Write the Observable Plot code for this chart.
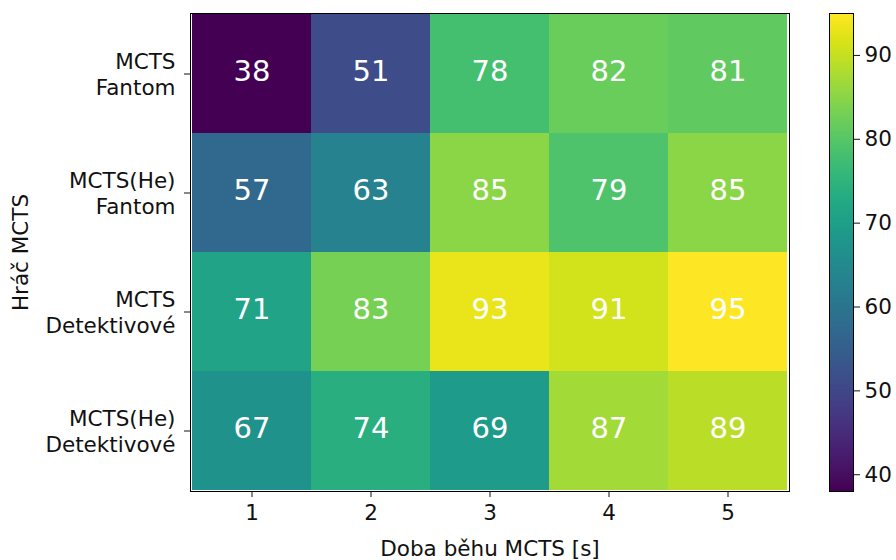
<!DOCTYPE html>
<html><head><meta charset="utf-8">
<script src="https://cdn.jsdelivr.net/npm/d3@7"></script>
<script src="https://cdn.jsdelivr.net/npm/@observablehq/plot@0.6"></script>
<style>
body{margin:0;background:#fff}
#c{position:relative;width:896px;height:560px;overflow:hidden}
#c svg{position:absolute;top:0}
</style>
</head><body><div id="c"></div>
<script>
const times = [1, 2, 3, 4, 5];
const players = ["MCTS\nFantom", "MCTS(He)\nFantom", "MCTS\nDetektivové", "MCTS(He)\nDetektivové"];
const winsFantomMCTS = [38, 51, 78, 82, 81];
const winsFantomMCTSHe = [57, 63, 85, 79, 85];
const winsDetMCTS = [71, 83, 93, 91, 95];
const winsDetMCTSHe = [67, 74, 69, 87, 89];
const colorTicks = [40, 50, 60, 70, 80, 90];
const xLabel = "Doba běhu MCTS [s]";
const yLabel = "Hráč MCTS";

const rows = [winsFantomMCTS, winsFantomMCTSHe, winsDetMCTS, winsDetMCTSHe];
const data = [];
rows.forEach((r, i) => r.forEach((v, j) => data.push({player: players[i], time: times[j], value: v})));
const vmin = d3.min(data, d => d.value), vmax = d3.max(data, d => d.value);
const font = "DejaVu Sans";
const fs = 21.5;

const heat = Plot.plot({
  width: 800, height: 560,
  marginLeft: 190, marginRight: 11, marginTop: 13, marginBottom: 69,
  style: {fontFamily: font, fontSize: fs + "px", color: "#111", background: "transparent"},
  x: {type: "band", domain: times, padding: 0},
  y: {type: "band", domain: players, padding: 0},
  color: {type: "linear", scheme: "viridis", domain: [vmin, vmax]},
  marks: [
    Plot.cell(data, {x: "time", y: "player", fill: "value"}),
    Plot.text(data, {x: "time", y: "player", text: d => String(d.value), fill: "white", fontSize: 29, dy: -2}),
    Plot.frame({stroke: "black", strokeWidth: 1}),
    Plot.axisX({tickSize: 6, tickPadding: 7, fontSize: fs, label: xLabel, labelAnchor: "center", labelOffset: 64}),
    Plot.axisY({tickSize: 6, tickPadding: 9, fontSize: fs, lineHeight: 1.18, label: yLabel, labelAnchor: "center", labelOffset: 178})
  ]
});
heat.style.left = "0px";
document.getElementById("c").appendChild(heat);

const bar = Plot.plot({
  width: 67, height: 560,
  marginLeft: 0, marginRight: 43, marginTop: 13, marginBottom: 69,
  style: {fontFamily: font, fontSize: fs + "px", color: "#111", background: "transparent"},
  x: {domain: [0, 1], axis: null},
  y: {domain: [vmin, vmax]},
  color: {type: "linear", scheme: "viridis", domain: [vmin, vmax]},
  marks: [
    Plot.raster({fill: (x, y) => y, x1: 0, x2: 1, y1: vmin, y2: vmax, width: 1, height: 478}),
    Plot.frame({stroke: "black", strokeWidth: 1}),
    Plot.axisY({anchor: "right", ticks: colorTicks, tickSize: 6, tickPadding: 5, fontSize: fs, label: null})
  ]
});
bar.style.left = "829px";
document.getElementById("c").appendChild(bar);
</script>
</body></html>
